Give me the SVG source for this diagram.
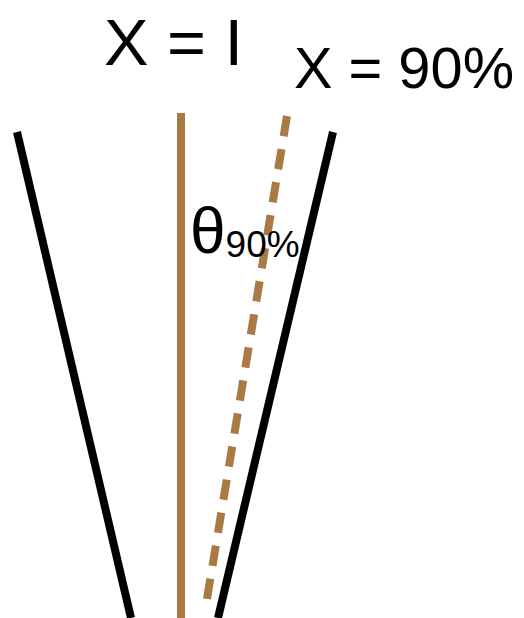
<svg xmlns="http://www.w3.org/2000/svg" width="524" height="618" viewBox="0 0 524 618">
<style>
.blk{stroke:#000;stroke-width:8;fill:none}
.brn{stroke:#a97a44;stroke-width:8;fill:none}
.lbl{font-family:"Liberation Sans",Arial,sans-serif;fill:#000}
</style>
<rect width="524" height="618" fill="#fff"/>
<g id="connectors">
<line class="blk" x1="17" y1="132" x2="131" y2="618"/>
<line class="blk" x1="333" y1="132" x2="218" y2="618"/>
<line class="brn" x1="181" y1="113" x2="181" y2="618"/>
<line class="brn" x1="287" y1="116" x2="206" y2="605" stroke-dasharray="20.5 13"/>
</g>
<g id="label-x1"><text class="lbl" x="104" y="65" font-size="64" textLength="139" lengthAdjust="spacingAndGlyphs">X = I</text></g>
<g id="label-x90"><text class="lbl" x="294" y="88" font-size="58" textLength="220" lengthAdjust="spacingAndGlyphs">X = 90%</text></g>
<g id="label-theta"><text class="lbl" x="190" y="253" font-size="64">θ<tspan font-size="37" dy="4">90%</tspan></text></g>
</svg>
